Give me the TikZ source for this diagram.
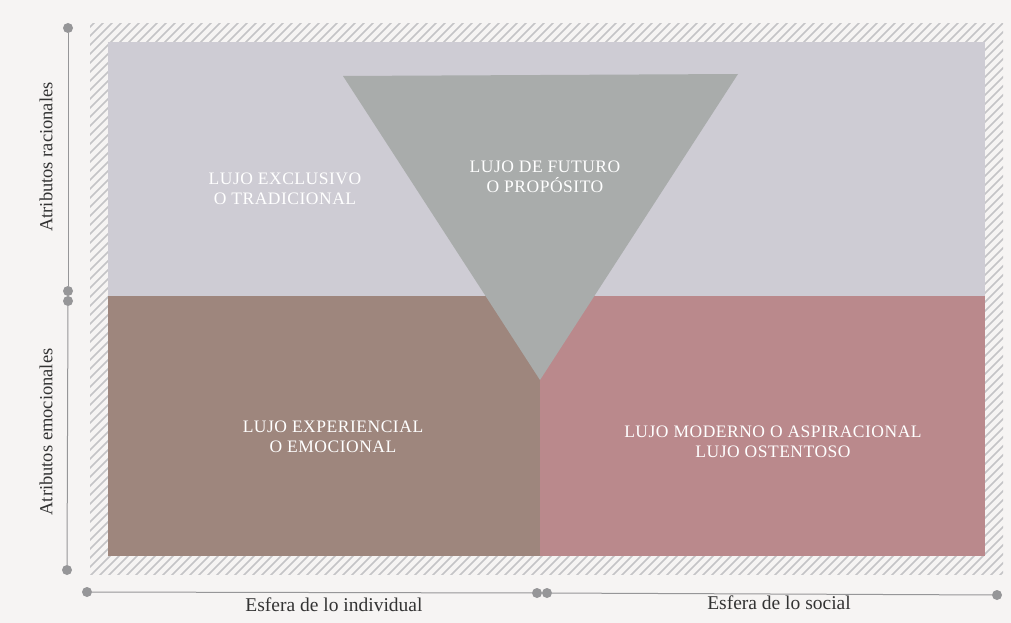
\documentclass[tikz,border=0pt]{standalone}
\usepackage{fontspec}
\setmainfont{Liberation Serif}
\newfontfamily\capsfont[LetterSpace=3]{Liberation Serif}
\usetikzlibrary{positioning}

\definecolor{paper}{RGB}{246,244,243}
\definecolor{racional}{RGB}{206,204,212}
\definecolor{futuro}{RGB}{169,172,171}
\definecolor{emocional}{RGB}{158,134,125}
\definecolor{social}{RGB}{186,137,140}
\definecolor{hatch}{RGB}{196,196,198}
\definecolor{axisgray}{RGB}{150,150,152}

\begin{document}
\begin{tikzpicture}[x=1pt,y=-1pt,
quadtext/.style={text=white, align=center, inner sep=0pt, font=\capsfont\fontsize{17.5}{20}\selectfont},
axislabel/.style={text=black!80, inner sep=0pt, font=\fontsize{19.5}{22}\selectfont},
sidelabel/.style={axislabel, rotate=90, font=\fontsize{18.5}{22}\selectfont},
axis/.style={draw=axisgray, line width=1pt},
dot/.style={circle, fill=axisgray, inner sep=0pt, minimum size=10pt}]

%% local variables
\def \xl {108}
\def \xr {985}
\def \yt {42}
\def \yb {556}
\def \xm {540}
\def \ym {296}
\def \hatchw {18}

%% page
\fill[paper] (0,0) rectangle (1011,623);
\useasboundingbox (0,0) rectangle (1011,623);

%% hatched frame (the quadrants cover the inside)
\begin{scope}
  \clip ({\xl-\hatchw},{\yt-\hatchw}) rectangle ({\xr+\hatchw},{\yb+\hatchw});
  \foreach \s in {-600,-591,...,1000}
        \draw[hatch, line width=1.5pt] (\s,600) -- ++(600,-600);
\end{scope}

%% quadrants
\fill[racional] (\xl,\yt) rectangle (\xr,\ym);
\fill[emocional] (\xl,\ym) rectangle (\xm,\yb);
\fill[social] (\xm,\ym) rectangle (\xr,\yb);
\fill[futuro] (343,76) -- (738,74) -- (540,380) -- cycle;

%% quadrant texts
\node[quadtext] (exclusivo) at (285,189) {LUJO EXCLUSIVO\\O TRADICIONAL};
\node[quadtext] (futuro) at (545,177) {LUJO DE FUTURO\\O PROPÓSITO};
\node[quadtext] (experiencial) at (333,437) {LUJO EXPERIENCIAL\\O EMOCIONAL};
\node[quadtext] (moderno) at (773,442) {LUJO MODERNO O ASPIRACIONAL\\LUJO OSTENTOSO};

%% vertical axis
\node[dot] (V-top) at (68,28) {};
\node[dot] (V-mid1) at (68,291) {};
\node[dot] (V-mid2) at (68,301) {};
\node[dot] (V-bot) at (67,570) {};
\draw[axis] (V-top) -- (V-mid1);
\draw[axis] (V-mid2) -- (V-bot);

\node[sidelabel] (racionales) at (46,157) {Atributos racionales};
\node[sidelabel] (emocionales) at (46,432) {Atributos emocionales};

%% horizontal axis
\node[dot] (H-left) at (87,592) {};
\node[dot] (H-mid1) at (537,593) {};
\node[dot] (H-mid2) at (547,593) {};
\node[dot] (H-right) at (997,595) {};
\draw[axis] (H-left) -- (H-mid1);
\draw[axis] (H-mid2) -- (H-right);

\node[axislabel] (individual) at (334,605) {Esfera de lo individual};
\node[axislabel] (social) at (779,603) {Esfera de lo social};

\end{tikzpicture}
\end{document}
